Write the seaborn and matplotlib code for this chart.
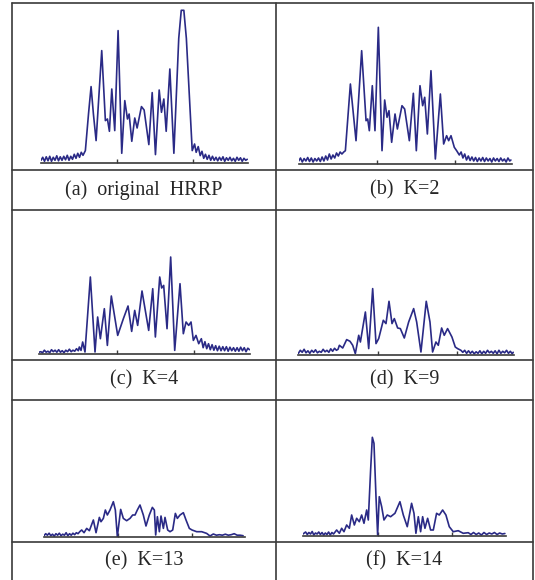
import matplotlib
matplotlib.use("Agg")
import matplotlib.pyplot as plt
from matplotlib.lines import Line2D
import seaborn as sns

# HRRP amplitude readings (range cell, amplitude) for each panel
sig_a = [
    (0, 3), (2.3, 6), (4.6, 2), (6.9, 6.5), (9.2, 2.5), (11.5, 7), (13.8, 2), (16.1, 6),
    (18.4, 3), (20.7, 7.5), (23.0, 2.5), (25.3, 6.5), (27.6, 3), (29.9, 7), (32.2, 3.5),
    (34.5, 8), (36.8, 3), (39.1, 7), (41.4, 4), (43.7, 9), (46.0, 5), (48.3, 10), (50.6, 6),
    (52.9, 11), (55.2, 8), (58.3, 12.7),
    (62.5, 50), (65.8, 76.7), (68.9, 49), (72.4, 22.7), (79.8, 112.7), (84.6, 42.7),
    (87.3, 44.3), (89.9, 32), (93.0, 74.3), (96.9, 32.7), (101.3, 132.7), (106.1, 10),
    (110.1, 62.7), (113.6, 44.3), (115.8, 49.3), (119.3, 22), (123.2, 45.3), (126.3, 35.3),
    (132.0, 56.7), (135.5, 53.3), (141.7, 18.7), (146.1, 70.7), (150.4, 8.7), (155.3, 73.3),
    (158.3, 51), (161.4, 64.3), (164.5, 32), (169.3, 94.3), (174.6, 10), (181.0, 125),
    (184.3, 153), (187.7, 153), (191.0, 125), (198.7, 12.7), (201.8, 19.3), (203.9, 11),
    (206.6, 16.7), (209.2, 7.7),
    (211.5, 12), (213.8, 5), (216.1, 9), (218.4, 4), (220.7, 8), (223.0, 3), (225.3, 7),
    (227.6, 3), (229.9, 6), (232.2, 2.5), (234.5, 6), (236.8, 3), (239.1, 6.5), (241.4, 2),
    (243.7, 5.5), (246.0, 3), (248.3, 6), (250.6, 2.5), (252.9, 5), (255.2, 2), (257.5, 6),
    (259.8, 3), (262.1, 5.5), (264.4, 2), (266.7, 5), (269.0, 3), (271.0, 4),
]

sig_b = [
    (0, 3), (2.3, 6), (4.6, 2), (6.9, 5.5), (9.2, 3), (11.5, 6.5), (13.8, 2.5), (16.1, 6),
    (18.4, 2), (20.7, 5.5), (23.0, 3), (25.3, 6), (27.6, 2.5), (29.9, 7), (32.2, 3), (34.5, 8),
    (36.8, 4), (39.1, 10), (41.4, 5), (43.7, 9), (46.0, 6), (48.3, 11), (50.6, 8), (52.9, 12),
    (55.2, 10), (57.5, 12), (59.6, 13.3),
    (66.0, 80), (73.2, 23.3), (80.4, 113.3), (86.0, 43.3), (88.1, 45), (90.2, 33.3),
    (94.0, 78.3), (97.4, 33.3), (101.7, 136.7), (106.4, 13.3), (109.8, 64), (112.8, 46.7),
    (115.3, 53.3), (118.7, 21.7), (123.0, 50), (126.0, 35), (131.9, 58.3), (135.3, 55),
    (141.3, 23.3), (146.4, 70.7), (150.2, 13.3), (154.9, 78.3), (158.3, 58.3), (160.9, 66.7),
    (164.3, 30), (168.9, 93.3), (174.5, 5), (180.9, 70), (185.1, 20), (188.9, 28.3),
    (191.5, 23.3), (194.5, 28.3), (198.7, 16.7), (201.7, 13.3), (205.1, 9),
    (207.4, 12), (209.7, 6), (212.0, 10), (214.3, 4), (216.6, 8), (218.9, 3.5), (221.2, 7),
    (223.5, 3), (225.8, 6.5), (228.1, 2.5), (230.4, 6), (232.7, 3), (235.0, 6.5), (237.3, 2.5),
    (239.6, 6), (241.9, 3), (244.2, 5.5), (246.5, 2), (248.8, 6), (251.1, 3), (253.4, 5.5),
    (255.7, 2.5), (258.0, 6), (260.3, 3), (262.6, 5), (264.9, 2), (267.2, 6), (269.5, 3),
    (271.0, 4),
]

sig_c = [
    (0, 1.5), (2.3, 2), (4.6, 1), (6.9, 3.5), (9.2, 1.5), (11.5, 2.5), (13.8, 1), (16.1, 4),
    (18.4, 2), (20.7, 3.5), (23.0, 1.5), (25.3, 4), (27.6, 1.5), (29.9, 3), (32.2, 1),
    (34.5, 3.5), (36.8, 2), (39.1, 4.5), (41.4, 2), (43.7, 3.5), (46.0, 2.5), (48.3, 5),
    (50.6, 3), (51.9, 6.7), (54.1, 3.3), (56.2, 11.7), (59.2, 1.7),
    (66.1, 76.7), (72.1, 1.7), (75.5, 36.7), (79.0, 15), (84.1, 45), (88.0, 8.3), (93.1, 57.7),
    (101.3, 18.3), (108.6, 35), (114.6, 47.7), (119.3, 22.3), (123.2, 43.3), (127.0, 28.3),
    (132.6, 62.7), (141.2, 23.3), (146.4, 65), (149.8, 16.7), (155.4, 76.7), (157.9, 65.7),
    (160.5, 68.3), (164.8, 25), (169.5, 96.7), (174.7, 3.3), (181.5, 70), (185.8, 20),
    (189.3, 31.7), (192.7, 28.3), (195.7, 31.7), (198.7, 13.3), (202.1, 18.3), (205.6, 10),
    (209.0, 15),
    (211.3, 6), (213.6, 12), (215.9, 5), (218.2, 10), (220.5, 4), (222.8, 9), (225.1, 3.5),
    (227.4, 8), (229.7, 3), (232.0, 7.5), (234.3, 3), (236.6, 7), (238.9, 3), (241.2, 7),
    (243.5, 2.5), (245.8, 6.5), (248.1, 3), (250.4, 6), (252.7, 2.5), (255.0, 6), (257.3, 2.5),
    (259.6, 6.5), (261.9, 3), (264.2, 6), (266.5, 2), (268.8, 5.5), (271.0, 4),
]

sig_d = [
    (0, 2), (2.4, 5), (4.8, 3), (7.2, 6), (9.6, 2.5), (12.0, 4.5), (14.4, 2), (16.8, 5),
    (19.2, 3), (21.6, 5.5), (24.0, 2.5), (26.4, 4), (28.8, 3), (31.2, 6), (33.6, 3.5),
    (36.0, 5), (38.4, 3), (40.8, 6.5), (43.2, 4), (45.6, 7), (48.0, 5), (50.0, 6),
    (51.7, 10), (55.9, 7.3), (60.9, 15.7), (65.1, 14), (68.5, 10), (71.8, 1.7), (76.1, 20),
    (78.2, 13.3), (84.5, 43.3), (88.7, 6.7), (93.7, 66.7), (97.9, 11.7), (101.3, 16.7),
    (107.1, 35), (110.5, 31.7), (114.3, 54), (118.1, 31.7), (121.0, 36.7), (125.2, 27.3),
    (128.6, 26.7), (133.6, 17.3), (139.1, 33.3), (145.4, 46.7), (149.2, 33.3), (154.6, 3.3),
    (161.3, 54), (166.0, 33.3), (169.3, 3.3), (173.5, 13.3), (176.5, 10), (180.7, 27.3),
    (184.0, 20), (188.2, 26.7), (193.7, 18.3), (197.9, 8.3), (200.8, 6.7), (205.0, 5),
    (207.4, 3), (209.8, 5), (212.2, 2), (214.6, 4.5), (217.0, 2), (219.4, 4), (221.8, 1.5),
    (224.2, 3.5), (226.6, 2), (229.0, 4.5), (231.4, 1.5), (233.8, 4), (236.2, 2), (238.6, 5),
    (241.0, 2.5), (243.4, 4), (245.8, 2), (248.2, 4.5), (250.6, 1.5), (253.0, 5), (255.4, 2),
    (257.8, 4), (260.2, 2.5), (262.6, 5), (265.0, 2), (267.4, 4), (269.8, 1.5), (271.0, 3),
]

sig_e = [
    (0, 1), (2.3, 3), (4.6, 1.5), (6.9, 3.5), (9.2, 1), (11.5, 2.5), (13.8, 0.5), (16.1, 3),
    (18.4, 1.5), (20.7, 3.5), (23.0, 1), (25.3, 2.5), (27.6, 1.5), (29.9, 4), (32.2, 1),
    (34.5, 3), (36.8, 1.5), (39.1, 3.5), (41.4, 2), (43.7, 4), (46.0, 3), (48.3, 5),
    (50.9, 6.7), (54.1, 4), (57.7, 8.3), (61.3, 6), (66.7, 16.7), (70.3, 4), (74.8, 19.3),
    (77.0, 15), (80.2, 18.3), (82.9, 26.7), (85.6, 21.7), (89.2, 26.7), (93.7, 35),
    (96.4, 26.7), (99.1, 0), (103.6, 27.3), (107.2, 18.3), (111.7, 16), (116.2, 18.3),
    (119.8, 21.7), (123.0, 21.7), (126.1, 26.7), (129.7, 31.7), (134.2, 21.7), (137.8, 10.7),
    (142.3, 21.7), (146.4, 29.3), (149.1, 26.7), (150.9, 1.7), (153.2, 20), (155.9, 5),
    (158.1, 20.7), (161.3, 8.3), (163.5, 19.3), (167.1, 6.7), (170.3, 5), (173.9, 6.7),
    (177.5, 23.3), (180.2, 18.3), (183.8, 21.7), (188.3, 24), (191.9, 16.7), (196.4, 8.3),
    (200.0, 6.7), (206.3, 5), (213.1, 5), (219.8, 3.3), (224.3, 0.7), (228.8, 2.7),
    (233, 1.5), (237, 2), (241, 1.5), (245, 2.5), (249, 1.5), (253, 2), (257, 3),
    (261, 1.5), (265, 1.5), (269, 1),
]

sig_f = [
    (0, 2), (3.5, 4), (5.7, 1.5), (7.9, 3.5), (10.1, 2), (12.3, 4.5), (14.5, 1), (16.7, 3),
    (18.9, 2), (21.1, 4), (23.3, 1.5), (25.5, 3.5), (27.7, 1), (29.9, 3), (32.1, 1.5),
    (34.3, 4), (36.5, 1), (38.7, 3.5), (40.9, 2), (43.0, 4),
    (45.1, 6), (48.7, 2.7), (51.8, 7.7), (54.9, 4.3), (58.5, 11), (62.1, 7.7), (65.2, 21),
    (68.8, 11), (71.9, 17.7), (75.4, 14.3), (78.6, 21), (81.7, 12.7), (85.3, 26), (87.5, 16),
    (90.6, 66), (92.9, 98.7), (95.1, 92.7), (97.8, 39.3), (100.0, 1), (102.2, 39.3),
    (105.4, 29.3), (108.5, 16), (112.9, 21), (117.4, 19.3), (123.2, 22.7), (129.9, 34.3),
    (134.4, 21), (139.7, 9.3), (145.5, 32.7), (148.7, 22.7), (151.3, 2.7), (154.5, 19.3),
    (157.6, 4.3), (160.3, 19.3), (163.4, 7.7), (167.0, 17.7), (171.0, 6), (174.6, 6),
    (179.0, 22.7), (182.6, 21), (187.1, 26), (191.5, 21), (196.0, 9.3), (201.3, 4.3),
    (208.0, 5.3), (214.7, 2.7), (221.4, 3.3),
    (225, 1.5), (228.5, 3.5), (232, 1.5), (235.5, 3), (239, 1), (242.5, 3.5), (246, 1.5),
    (249.5, 3), (253, 2), (256.5, 3.5), (260, 1.5), (263.5, 3), (267, 2), (270.5, 2.5),
]

captions = ["(a)  original  HRRP", "(b)  K=2", "(c)  K=4", "(d)  K=9", "(e)  K=13", "(f)  K=14"]
signals = [sig_a, sig_b, sig_c, sig_d, sig_e, sig_f]
tick_pos = [100, 200]

W, H = 535, 580
LINE = "#2a2a86"
GRID = "#3a3a3a"

# axes boxes in pixels: left, width, baseline, top
boxes = [
    (41, 207, 163.3, 4), (298.7, 213, 164, 4),
    (39, 211.3, 353.7, 211), (298.4, 215.6, 355.3, 211),
    (44, 201.3, 536.7, 401), (303, 203, 536, 401),
]
# caption centers in pixels
cap_xy = [(144, 190), (404.5, 190), (144, 380), (404.5, 380), (144, 561), (404.5, 561)]


def fig_line(fig, x0, y0, x1, y1):
    fig.add_artist(Line2D([x0 / W, x1 / W], [1 - y0 / H, 1 - y1 / H],
                          transform=fig.transFigure, color=GRID, linewidth=1.2))


def main():
    sns.set_style("white")
    plt.rcParams["font.family"] = ["Liberation Serif", "DejaVu Serif"]

    fig = plt.figure(figsize=(W / 100, H / 100), dpi=100)

    for sig, label, (x0, w, base, top), (cx, cy) in zip(signals, captions, boxes, cap_xy):
        xs = [p[0] for p in sig]
        ys = [p[1] for p in sig]
        ax = fig.add_axes([x0 / W, 1 - base / H, w / W, (base - top) / H])
        ax.patch.set_alpha(0)
        sns.lineplot(x=xs, y=ys, ax=ax, color=LINE, linewidth=1.2,
                     estimator=None, sort=False)
        ax.set_xlim(0, 272)
        ax.set_ylim(0, base - top)
        ax.set_xticks(tick_pos)
        ax.set_xticklabels([])
        ax.set_yticks([])
        ax.set_xlabel("")
        ax.set_ylabel("")
        for s in ("left", "right", "top"):
            ax.spines[s].set_visible(False)
        ax.spines["bottom"].set_color(GRID)
        ax.spines["bottom"].set_linewidth(1.2)
        ax.tick_params(axis="x", direction="in", length=3, width=1, color=GRID, bottom=True)
        fig.text(cx / W, 1 - cy / H, label, ha="center", va="center", fontsize=14.5)

    # table frame
    for x in (12, 276, 533):
        fig_line(fig, x, 3, x, 580)
    for y in (3, 170, 210, 360, 400, 542):
        fig_line(fig, 12, y, 533, y)

    fig.savefig("out.png", dpi=100)


if __name__ == "__main__":
    main()
